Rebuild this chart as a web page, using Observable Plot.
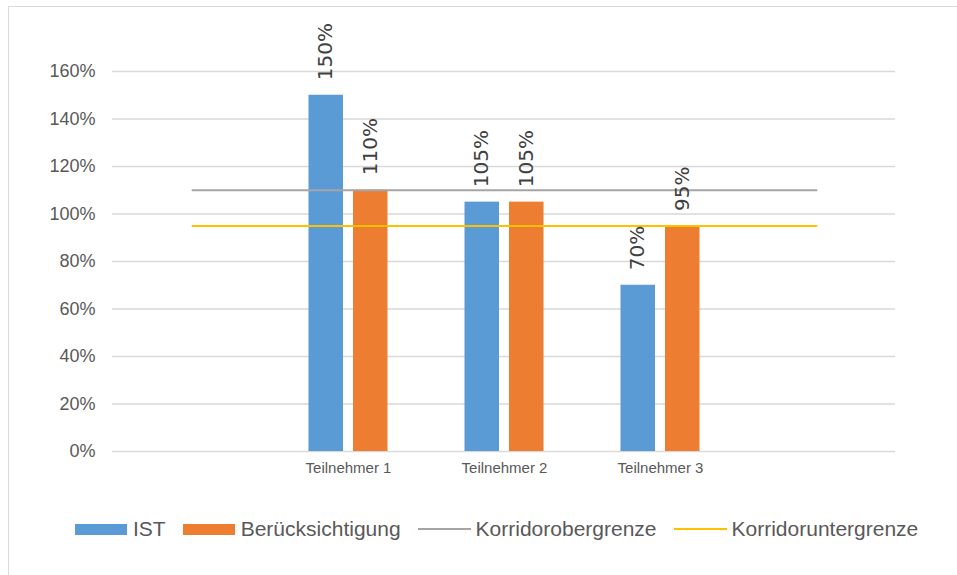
<!DOCTYPE html>
<html><head><meta charset="utf-8">
<script src="https://cdn.jsdelivr.net/npm/d3@7"></script>
<script src="https://cdn.jsdelivr.net/npm/@observablehq/plot@0.6"></script>
<style>
body{margin:0;background:#fff;width:957px;height:575px;overflow:hidden;position:relative;font-family:"Liberation Sans",Arial,sans-serif;}
#frame{position:absolute;left:8px;top:6px;width:1000px;height:620px;border:1.5px solid #D9D9D9;box-sizing:border-box;z-index:2;pointer-events:none;}
#chart{position:absolute;left:0;top:0;}
#legend{position:absolute;left:75px;top:516px;height:26px;display:flex;align-items:center;font-size:21px;color:#595959;white-space:nowrap;}
.sw{display:inline-block;width:52px;height:11px;margin-right:6px;}
.ln{display:inline-block;width:53px;height:2px;margin-right:5px;}
.item{display:flex;align-items:center;margin-right:17px;}
</style></head>
<body>
<div id="frame"></div>
<div id="chart"></div>
<div id="legend"></div>
<script>
const categories = ["", "Teilnehmer 1", "Teilnehmer 2", "Teilnehmer 3", " "];
const participants = ["Teilnehmer 1", "Teilnehmer 2", "Teilnehmer 3"];
const ist = [150, 105, 70];
const beruecksichtigung = [110, 105, 95];
const obergrenze = [110, 110, 110, 110, 110];
const untergrenze = [95, 95, 95, 95, 95];
const yTicks = [0, 20, 40, 60, 80, 100, 120, 140, 160];
const seriesNames = ["IST", "Berücksichtigung", "Korridorobergrenze", "Korridoruntergrenze"];
const colors = ["#5B9BD5", "#ED7D31", "#A5A5A5", "#FFC000"];

const istData = participants.map((c, i) => ({c, v: ist[i]}));
const berData = participants.map((c, i) => ({c, v: beruecksichtigung[i]}));
const obData = categories.map((c, i) => ({c, v: obergrenze[i]}));
const unData = categories.map((c, i) => ({c, v: untergrenze[i]}));
const pct = d => d + "%";

const chart = Plot.plot({
  width: 957,
  height: 490,
  marginLeft: 112,
  marginRight: 62,
  marginTop: 71,
  marginBottom: 39,
  style: {background: "none", color: "#595959", fontFamily: "'Liberation Sans', Arial, sans-serif", overflow: "visible"},
  x: {type: "band", domain: categories, padding: 0, label: null},
  y: {domain: [0, 160], label: null},
  marks: [
    Plot.gridY(yTicks, {stroke: "#D9D9D9", strokeOpacity: 1, strokeWidth: 1.5}),
    Plot.axisY(yTicks, {tickSize: 0, tickPadding: 17, tickFormat: pct, fontSize: 18, label: null}),
    Plot.axisX({tickSize: 0, tickPadding: 11, fontSize: 15, label: null}),
    Plot.barY(istData, {x: "c", y: "v", fill: colors[0], insetLeft: 38.5, insetRight: 83}),
    Plot.barY(berData, {x: "c", y: "v", fill: colors[1], insetLeft: 83, insetRight: 38.5}),
    Plot.lineY(obData, {x: "c", y: "v", stroke: colors[2], strokeWidth: 2}),
    Plot.lineY(unData, {x: "c", y: "v", stroke: colors[3], strokeWidth: 2}),
    Plot.text(istData, {x: "c", y: "v", text: d => pct(d.v), rotate: -90, textAnchor: "start", dx: -22.5, dy: -15, fontSize: 20, fontFamily: "'DejaVu Sans', sans-serif", fill: "#404040"}),
    Plot.text(berData, {x: "c", y: "v", text: d => pct(d.v), rotate: -90, textAnchor: "start", dx: 22.5, dy: -15, fontSize: 20, fontFamily: "'DejaVu Sans', sans-serif", fill: "#404040"})
  ]
});
document.getElementById("chart").appendChild(chart);

const legend = document.getElementById("legend");
seriesNames.forEach((name, i) => {
  const item = document.createElement("div");
  item.className = "item";
  const mark = document.createElement("span");
  mark.className = i < 2 ? "sw" : "ln";
  mark.style.background = colors[i];
  const label = document.createElement("span");
  label.textContent = name;
  item.appendChild(mark);
  item.appendChild(label);
  legend.appendChild(item);
});
</script>
</body></html>
